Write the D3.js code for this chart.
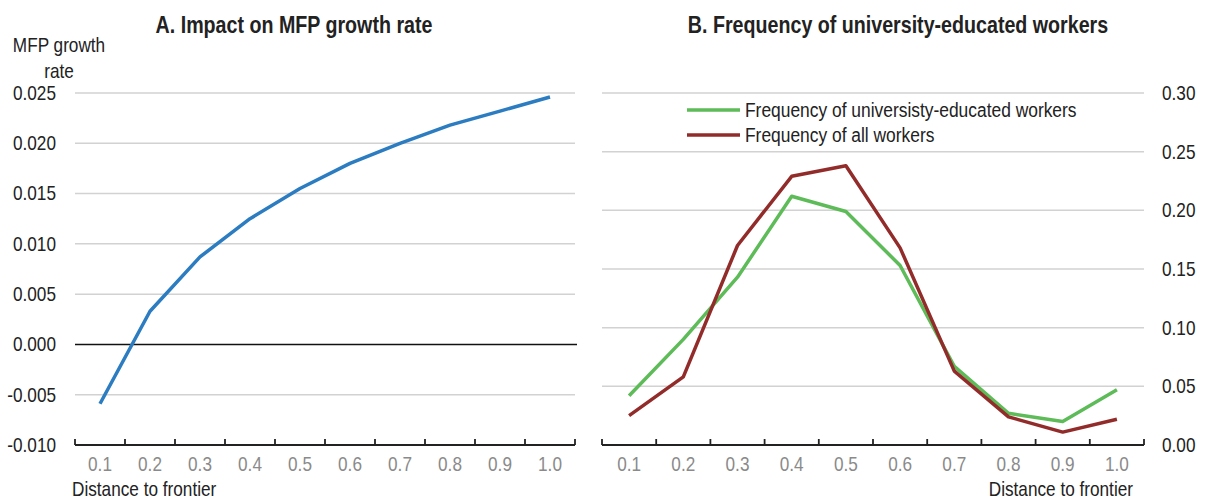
<!DOCTYPE html>
<html><head><meta charset="utf-8">
<script src="https://cdn.jsdelivr.net/npm/d3@7"></script>
<style>
html,body{margin:0;padding:0;background:#fff;}
svg{display:block;}
text{font-family:'Liberation Sans','Arial',sans-serif;}
</style></head>
<body>
<svg id="chart" width="1205" height="501"></svg>
<script>
const categories = ["0.1","0.2","0.3","0.4","0.5","0.6","0.7","0.8","0.9","1.0"];
const mfpImpact = [-0.0059, 0.0033, 0.0087, 0.0125, 0.0155, 0.0180, 0.0200, 0.0218, 0.0232, 0.0246];
const univWorkers = [0.042, 0.090, 0.143, 0.212, 0.199, 0.153, 0.067, 0.027, 0.020, 0.047];
const allWorkers = [0.025, 0.058, 0.170, 0.229, 0.238, 0.168, 0.063, 0.024, 0.011, 0.022];
const leftTicks = [-0.010, -0.005, 0.000, 0.005, 0.010, 0.015, 0.020, 0.025];
const rightTicks = [0.00, 0.05, 0.10, 0.15, 0.20, 0.25, 0.30];
const titles = ["A. Impact on MFP growth rate", "B. Frequency of university-educated workers"];
const legendLabels = ["Frequency of universisty-educated workers", "Frequency of all workers"];

const svg = d3.select("#chart");
const FS = 20, SX = 0.86, TSX = 0.855;
const plotTop = 93, plotBottom = 445;
const fmt3 = d => d.toFixed(3);
const fmt2 = d => d.toFixed(2);

// narrow text helper
function ntext(x, y, str, opts = {}) {
  const t = svg.append("text")
    .attr("transform", `translate(${x},${y}) scale(${opts.sx || SX},1)`)
    .attr("font-size", opts.size || FS)
    .attr("fill", opts.fill || "#222")
    .attr("text-anchor", opts.anchor || "start")
    .text(str);
  if (opts.bold) t.attr("font-weight", "bold");
  return t;
}
function styleAxisText(g, fill) {
  g.select(".domain").remove();
  g.selectAll("text").attr("font-size", FS).attr("fill", fill)
    .attr("font-family", null).attr("transform", `scale(${SX},1)`);
}

// ---------- Panel A ----------
const xA = d3.scaleBand().domain(categories).range([75, 575]);
const yA = d3.scaleLinear().domain([-0.010, 0.025]).range([plotBottom, plotTop]);

ntext(294, 33, titles[0], {size: 23, bold: true, anchor: "middle", sx: TSX});
ntext(59, 52, "MFP growth", {anchor: "middle"});
ntext(59, 78, "rate", {anchor: "middle"});

svg.selectAll("line.gA").data(leftTicks.filter(d => d > -0.010 && d !== 0)).join("line")
  .attr("x1",75).attr("x2",575).attr("y1",d=>yA(d)).attr("y2",d=>yA(d))
  .attr("stroke","#d2d2d2").attr("stroke-width",1.5);
svg.append("line").attr("x1",75).attr("x2",577).attr("y1",yA(0)).attr("y2",yA(0))
  .attr("stroke","#111").attr("stroke-width",1.5);

const axYA = svg.append("g").attr("transform","translate(56,0)")
  .call(d3.axisLeft(yA).tickValues(leftTicks).tickSize(0).tickPadding(0).tickFormat(fmt3));
styleAxisText(axYA, "#222");

const axXA = svg.append("g").attr("transform",`translate(0,${plotBottom})`)
  .call(d3.axisBottom(xA).tickSize(0).tickPadding(12));
styleAxisText(axXA, "#8a8a8a");
svg.append("line").attr("x1",75).attr("x2",575).attr("y1",plotBottom).attr("y2",plotBottom)
  .attr("stroke","#222").attr("stroke-width",1.8);
svg.selectAll("line.tA").data(d3.range(categories.length+1)).join("line")
  .attr("x1",i=>75+i*xA.bandwidth()).attr("x2",i=>75+i*xA.bandwidth())
  .attr("y1",plotBottom).attr("y2",plotBottom-6).attr("stroke","#222").attr("stroke-width",1.8);
ntext(72, 496, "Distance to frontier");

const lineA = d3.line().x((d,i)=>xA(categories[i])+xA.bandwidth()/2).y(d=>yA(d));
svg.append("path").datum(mfpImpact).attr("d",lineA).attr("fill","none")
  .attr("stroke","#2b7cc0").attr("stroke-width",3.5).attr("stroke-linejoin","round");

// ---------- Panel B ----------
const xB = d3.scaleBand().domain(categories).range([602, 1144]);
const yB = d3.scaleLinear().domain([0, 0.30]).range([plotBottom, plotTop]);

ntext(898, 33, titles[1], {size: 23, bold: true, anchor: "middle", sx: TSX});

svg.selectAll("line.gB").data(rightTicks.filter(d=>d>0)).join("line")
  .attr("x1",602).attr("x2",1144).attr("y1",d=>yB(d)).attr("y2",d=>yB(d))
  .attr("stroke","#d2d2d2").attr("stroke-width",1.5);

const axYB = svg.append("g").attr("transform","translate(1162,0)")
  .call(d3.axisRight(yB).tickValues(rightTicks).tickSize(0).tickPadding(0).tickFormat(fmt2));
styleAxisText(axYB, "#222");

const axXB = svg.append("g").attr("transform",`translate(0,${plotBottom})`)
  .call(d3.axisBottom(xB).tickSize(0).tickPadding(12));
styleAxisText(axXB, "#8a8a8a");
svg.append("line").attr("x1",602).attr("x2",1144).attr("y1",plotBottom).attr("y2",plotBottom)
  .attr("stroke","#222").attr("stroke-width",1.8);
svg.selectAll("line.tB").data(d3.range(categories.length+1)).join("line")
  .attr("x1",i=>602+i*xB.bandwidth()).attr("x2",i=>602+i*xB.bandwidth())
  .attr("y1",plotBottom).attr("y2",plotBottom-6).attr("stroke","#222").attr("stroke-width",1.8);
ntext(1133, 496, "Distance to frontier", {anchor: "end"});

const lineB = d3.line().x((d,i)=>xB(categories[i])+xB.bandwidth()/2).y(d=>yB(d));
const seriesB = [
  {values: univWorkers, color: "#5dbb58", label: legendLabels[0]},
  {values: allWorkers, color: "#922c2a", label: legendLabels[1]}
];
svg.selectAll("path.sB").data(seriesB).join("path")
  .attr("d",d=>lineB(d.values)).attr("fill","none")
  .attr("stroke",d=>d.color).attr("stroke-width",3.5).attr("stroke-linejoin","round");

const leg = svg.selectAll("g.leg").data(seriesB).join("g")
  .attr("transform",(d,i)=>`translate(687,${110+i*25})`);
leg.append("line").attr("x1",0).attr("x2",53).attr("stroke",d=>d.color).attr("stroke-width",3.5);
leg.append("text").attr("transform",`translate(58,0) scale(0.87,1)`).attr("dy","0.35em")
  .attr("font-size",FS).attr("fill","#222").text(d=>d.label);
</script>
</body></html>
